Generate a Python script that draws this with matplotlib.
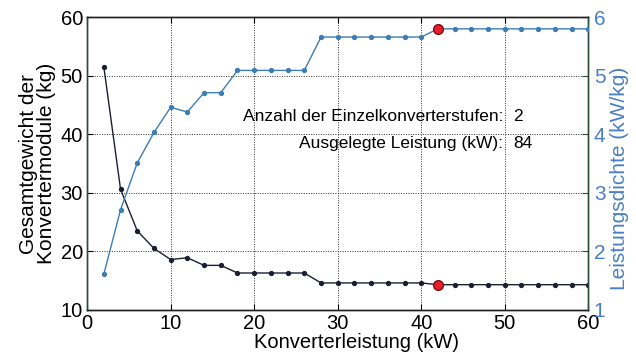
import numpy as np
import matplotlib.pyplot as plt
import matplotlib

matplotlib.rcParams['font.family'] = ['Liberation Sans', 'DejaVu Sans']
matplotlib.rcParams['font.size'] = 15

# Konverterleistung in kW
leistung = [2, 4, 6, 8, 10, 12, 14, 16, 18, 20, 22, 24, 26, 28, 30, 32, 34, 36, 38, 40,
            42, 44, 46, 48, 50, 52, 54, 56, 58, 60]
# Gesamtgewicht der Module (kg)
gewicht = [51.5, 30.6, 23.5, 20.5, 18.6, 18.9, 17.6, 17.6, 16.3, 16.3, 16.3, 16.3, 16.3,
           14.6, 14.6, 14.6, 14.6, 14.6, 14.6, 14.6,
           14.3, 14.3, 14.3, 14.3, 14.3, 14.3, 14.3, 14.3, 14.3, 14.3]
# Leistungsdichte (kW/kg)
dichte = [1.61, 2.71, 3.51, 4.03, 4.46, 4.38, 4.71, 4.71, 5.09, 5.09, 5.09, 5.09, 5.09,
          5.66, 5.66, 5.66, 5.66, 5.66, 5.66, 5.66,
          5.80, 5.80, 5.80, 5.80, 5.80, 5.80, 5.80, 5.80, 5.80, 5.80]

opt_idx = 20  # 42 kW
n_stufen = 2
p_ausgelegt = 84

blau = '#3b7db5'
achsblau = '#4a7fc4'
schwarz = '#1c1f33'
spinefarbe = '#2e4a3a'

fig, ax1 = plt.subplots(figsize=(6.36, 3.57), dpi=100)
fig.subplots_adjust(left=0.137, right=0.925, top=0.952, bottom=0.132)

ax1.plot(leistung, gewicht, '-', color=schwarz, lw=1.0, marker='o', ms=2.8, zorder=3)
ax1.plot(leistung[opt_idx], gewicht[opt_idx], 'o', color='#e8202a', mec='#7a1010',
         ms=7, zorder=4)
ax1.set_xlim(0, 60)
ax1.set_ylim(10, 60)
ax1.set_xticks(np.arange(0, 61, 10))
ax1.set_yticks(np.arange(10, 61, 10))
ax1.set_xlabel('Konverterleistung (kW)', labelpad=0, fontsize=14.5, x=0.537)
ax1.set_ylabel('Gesamtgewicht der\nKonvertermodule (kg)', linespacing=0.95, labelpad=3)
ax1.grid(True, color='#333333', linestyle=(0, (1, 1.5)), lw=0.7)
ax1.tick_params(direction='in', length=4, top=True, pad=3, labelsize=14.5)

ax2 = ax1.twinx()
ax2.plot(leistung, dichte, '-', color=blau, lw=1.0, marker='o', ms=2.8, zorder=3)
ax2.plot(leistung[opt_idx], dichte[opt_idx], 'o', color='#e8202a', mec='#7a1010',
         ms=7, zorder=4)
ax2.set_ylim(1, 6)
ax2.set_yticks(np.arange(1, 7, 1))
ax2.set_ylabel('Leistungsdichte (kW/kg)', color=achsblau, labelpad=3, y=0.45)
ax2.tick_params(axis='y', direction='in', length=4, labelcolor=achsblau,
                color=spinefarbe, labelsize=15, pad=4)

for ax in (ax1, ax2):
    for s in ax.spines.values():
        s.set_color('#222222')
        s.set_linewidth(1.0)
    ax.spines['left'].set_color(spinefarbe)
    ax.spines['right'].set_color(spinefarbe)

ax1.text(49.8, 43.1, 'Anzahl der Einzelkonverterstufen:', ha='right', va='center', fontsize=12.5)
ax1.text(51.0, 43.1, str(n_stufen), ha='left', va='center', fontsize=12.5)
ax1.text(49.8, 38.5, 'Ausgelegte Leistung (kW):', ha='right', va='center', fontsize=12.5)
ax1.text(51.0, 38.5, str(p_ausgelegt), ha='left', va='center', fontsize=12.5)

fig.savefig('out.png', dpi=100)
